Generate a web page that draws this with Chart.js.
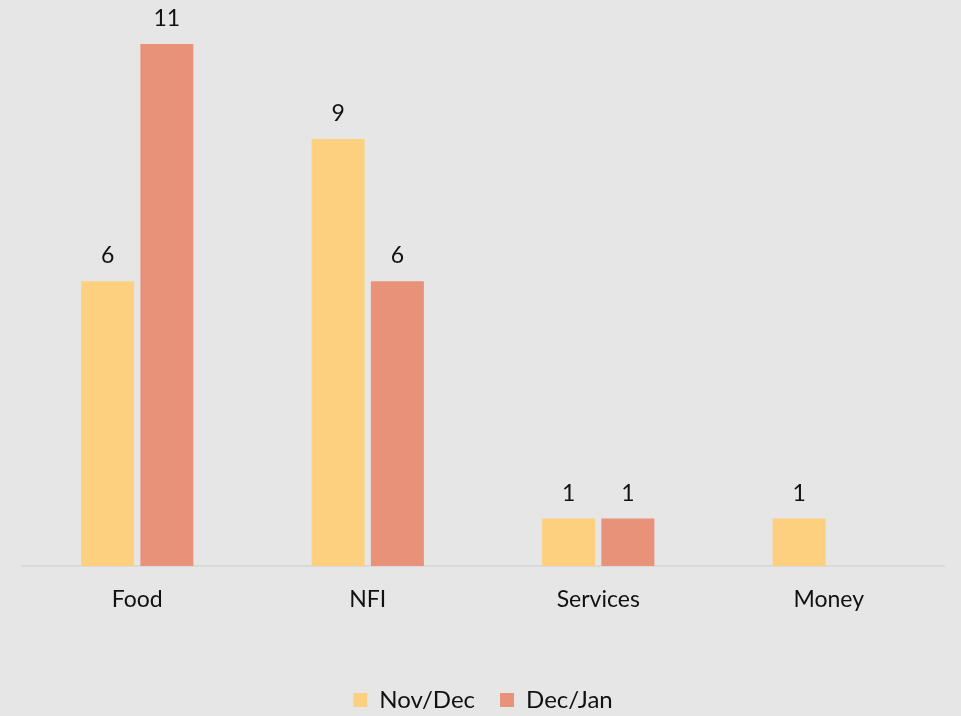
<!DOCTYPE html>
<html>
<head>
<meta charset="utf-8">
<script src="https://cdn.jsdelivr.net/npm/chart.js@4/dist/chart.umd.min.js"></script>
<style>
html,body{margin:0;padding:0;background:#e6e6e6;}
#wrap{width:961px;height:716px;}
</style>
</head>
<body>
<div id="wrap"><canvas id="c" width="961" height="716"></canvas></div>
<script>
const categories = ['Food', 'NFI', 'Services', 'Money'];
const seriesNames = ['Nov/Dec', 'Dec/Jan'];
const novDec = [6, 9, 1, 1];
const decJan = [11, 6, 1, null];
const colors = ['#fdd07f', '#e8927a'];
const FONT = 'Lato, "Open Sans", sans-serif';

const valueLabels = {
  id: 'valueLabels',
  afterDatasetsDraw(chart) {
    const ctx = chart.ctx;
    ctx.save();
    ctx.font = '23px ' + FONT;
    ctx.fillStyle = '#111';
    ctx.textAlign = 'center';
    ctx.textBaseline = 'alphabetic';
    chart.data.datasets.forEach((ds, i) => {
      const meta = chart.getDatasetMeta(i);
      meta.data.forEach((bar, j) => {
        const v = ds.data[j];
        if (v === null || v === undefined) return;
        ctx.fillText(String(v), bar.x, bar.y - 18);
      });
    });
    ctx.restore();
  }
};

new Chart(document.getElementById('c'), {
  type: 'bar',
  data: {
    labels: categories,
    datasets: [
      { label: seriesNames[0], data: novDec, backgroundColor: colors[0] },
      { label: seriesNames[1], data: decJan, backgroundColor: colors[1] }
    ]
  },
  options: {
    responsive: false,
    animation: false,
    maintainAspectRatio: false,
    layout: { padding: { top: 44, left: 22, right: 17, bottom: -6 } },
    datasets: { bar: { categoryPercentage: 0.514, barPercentage: 0.895 } },
    scales: {
      y: { display: false, min: 0, max: 11 },
      x: {
        grid: { display: false, drawTicks: false },
        border: { display: true, color: '#d9d9d9', width: 2 },
        ticks: { color: '#111', font: { family: FONT, size: 23 }, padding: 20 },
        afterFit(scale) { scale.height = 97; }
      }
    },
    plugins: {
      legend: {
        position: 'bottom',
        labels: {
          color: '#111',
          font: { family: FONT, size: 24 },
          boxWidth: 14, boxHeight: 14, padding: 25
        }
      },
      tooltip: { enabled: false }
    }
  },
  plugins: [valueLabels]
});
</script>
</body>
</html>
